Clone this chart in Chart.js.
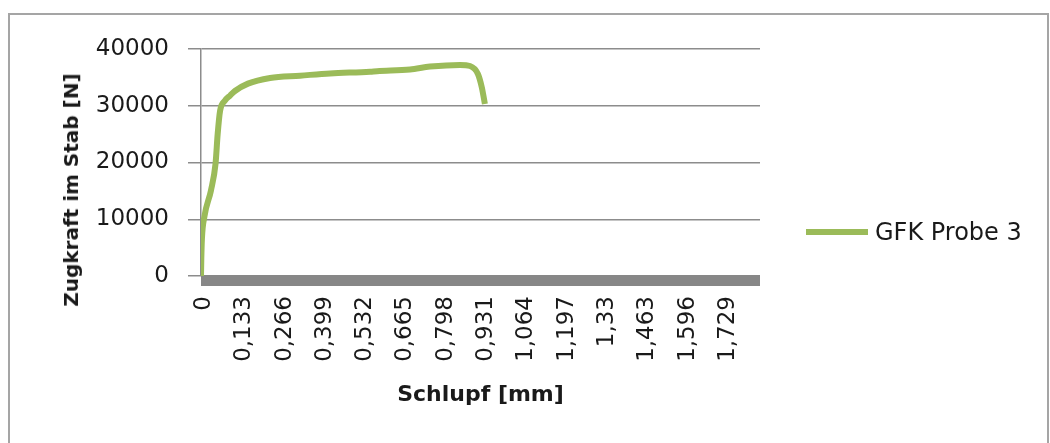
<!DOCTYPE html>
<html lang="de">
<head>
<meta charset="utf-8">
<script src="https://cdn.jsdelivr.net/npm/chart.js@4/dist/chart.umd.min.js"></script>
<style>
  body { margin: 0; background: #fff; }
  .wrap { position: relative; width: 1050px; height: 443px; }
  .frame { position: absolute; left: 8px; top: 13px; width: 1041px; height: 440px; border: 2px solid #a5a5a5; box-sizing: border-box; }
  .y-title { position: absolute; left: 71px; top: 190px; transform: translate(-50%, -50%) rotate(-90deg); font: bold 20px "DejaVu Sans"; color: #1a1a1a; white-space: nowrap; }
  .legend { position: absolute; left: 806px; top: 232px; transform: translateY(-50%); display: flex; align-items: center; font: 24px "DejaVu Sans"; color: #1a1a1a; white-space: nowrap; }
  .legend i { display: inline-block; width: 62px; height: 6px; margin-right: 7px; }
  canvas { position: absolute; left: 0; top: 0; }
</style>
</head>
<body>
<div class="wrap">
  <div class="frame"></div>
  <canvas id="chart" width="1050" height="443"></canvas>
  <div class="y-title">Zugkraft im Stab [N]</div>
  <div class="legend" id="legend"></div>
</div>
<script>
// Messwerte GFK Probe 3
const schlupf = [0, 0.001, 0.003, 0.011, 0.033, 0.048, 0.055, 0.063, 0.079, 0.096, 0.112, 0.155,
  0.228, 0.327, 0.426, 0.558, 0.581, 0.690, 0.756, 0.855, 0.888, 0.914, 0.927, 0.937];
const zugkraft = [0, 3000, 6500, 10400, 15100, 19800, 25000, 29100, 30900, 31800, 32600, 33900,
  34900, 35300, 35700, 36000, 36100, 36400, 36900, 37200, 37000, 35600, 33200, 30300];
const xTicks = [0, 0.133, 0.266, 0.399, 0.532, 0.665, 0.798, 0.931, 1.064, 1.197, 1.33, 1.463, 1.596, 1.729];
const yTicks = [0, 10000, 20000, 30000, 40000];
const seriesName = 'GFK Probe 3';

const green = '#9bbb59';
const grey = '#8c8c8c';
const textCol = '#1a1a1a';

// dicke graue Leiste unter der Nulllinie
const axisBar = {
  id: 'axisBar',
  beforeDatasetsDraw(chart) {
    const { ctx, chartArea } = chart;
    ctx.save();
    ctx.fillStyle = '#878787';
    ctx.fillRect(chartArea.left, chartArea.bottom - 1, chartArea.right - chartArea.left, 11);
    ctx.restore();
  },
};

const config = {
  type: 'line',
  data: {
    datasets: [{
      label: seriesName,
      data: schlupf.map((x, i) => ({ x, y: zugkraft[i] })),
      borderColor: green,
      backgroundColor: green,
      borderWidth: 6,
      pointRadius: 0,
      cubicInterpolationMode: 'monotone',
      fill: false,
    }],
  },
  options: {
    responsive: false,
    animation: false,
    // Plotbereich: links 201, rechts 760, oben 49, unten 276
    layout: {
      padding: { top: 49, bottom: 28, left: 0, right: 290 },
    },
    scales: {
      x: {
        type: 'linear',
        min: 0,
        max: 1.845,
        afterBuildTicks: (scale) => { scale.ticks = xTicks.map((value) => ({ value })); },
        afterFit: (scale) => { scale.height = 139; },
        grid: { display: false, drawTicks: false },
        border: { display: false },
        ticks: {
          autoSkip: false,
          minRotation: 90,
          maxRotation: 90,
          padding: 20,
          labelOffset: 3,
          color: textCol,
          font: { family: 'DejaVu Sans', size: 23 },
          callback: (v) => String(+Number(v).toFixed(3)).replace('.', ','),
        },
        title: {
          display: true,
          text: 'Schlupf [mm]',
          color: textCol,
          font: { family: 'DejaVu Sans', size: 22, weight: 'bold' },
          padding: { top: 0, bottom: 7 },
        },
      },
      y: {
        min: 0,
        max: 40000,
        afterBuildTicks: (scale) => { scale.ticks = yTicks.map((value) => ({ value })); },
        afterFit: (scale) => { scale.width = 201; },
        grid: { color: grey, lineWidth: 1.5, tickLength: 13, tickColor: grey },
        border: { color: grey, width: 1.5 },
        ticks: {
          padding: 19,
          color: textCol,
          font: { family: 'DejaVu Sans', size: 23 },
          callback: (v) => String(v),
        },
      },
    },
    plugins: {
      tooltip: { enabled: false },
      legend: { display: false },
    },
  },
  plugins: [axisBar],
};

const chart = new Chart(document.getElementById('chart'), config);

// Legende neben dem Diagramm
document.getElementById('legend').innerHTML = chart.data.datasets
  .map((ds) => `<i style="background:${ds.borderColor}"></i>${ds.label}`).join('');
</script>
</body>
</html>
